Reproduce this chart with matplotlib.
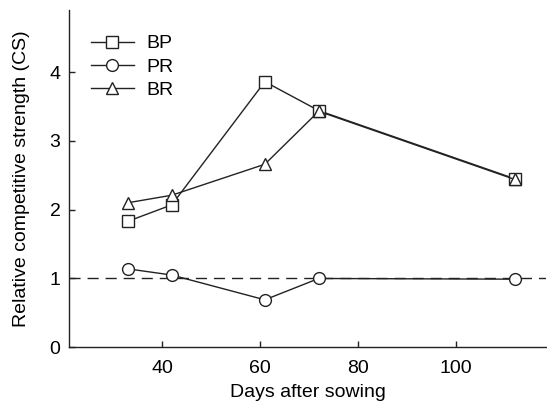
import matplotlib
matplotlib.use("Agg")
import matplotlib.pyplot as plt

days = [33, 42, 61, 72, 112]
bp = [1.83, 2.07, 3.86, 3.44, 2.45]
pr = [1.14, 1.05, 0.69, 1.00, 0.99]
br = [2.10, 2.21, 2.66, 3.43, 2.44]
xticks = [40, 60, 80, 100]
yticks = [0, 1, 2, 3, 4]

plt.rcParams['font.family'] = ['Liberation Sans', 'DejaVu Sans']
fs = 14

fig = plt.figure(figsize=(5.47, 4.05), dpi=100)
ax = fig.add_axes([0.126, 0.1425, 0.873, 0.8325])

c = '#222222'
ms = 8.5
ax.plot(days, bp, color=c, lw=1.0, marker='s', ms=ms, mfc='white', mec=c, mew=1.0, label='BP', zorder=3)
ax.plot(days, pr, color=c, lw=1.0, marker='o', ms=ms, mfc='white', mec=c, mew=1.0, label='PR', zorder=3)
ax.plot(days, br, color=c, lw=1.0, marker='^', ms=ms, mfc='white', mec=c, mew=1.0, label='BR', zorder=3)
ax.axhline(1.0, color=c, lw=1.0, ls=(0, (8, 5)), zorder=1)

ax.set_xlim(21, 118.5)
ax.set_ylim(0, 4.9)
ax.set_xticks(xticks)
ax.set_yticks(yticks)
ax.tick_params(direction='in', length=4, width=1, color=c, labelsize=fs)
ax.tick_params(axis='x', pad=9)
ax.tick_params(axis='y', pad=6)
for s in ['top', 'right']:
    ax.spines[s].set_visible(False)
for s in ['left', 'bottom']:
    ax.spines[s].set_color(c)
    ax.spines[s].set_linewidth(1.0)

ax.set_xlabel('Days after sowing', fontsize=fs, labelpad=5)
ax.set_ylabel('Relative competitive strength (CS)', fontsize=fs, labelpad=14)

ax.legend(loc='upper left', bbox_to_anchor=(0.03, 0.95), frameon=False, handlelength=2.2,
          handletextpad=0.65, labelspacing=0.3, fontsize=fs, borderaxespad=0)

fig.savefig('out.png', dpi=100)
